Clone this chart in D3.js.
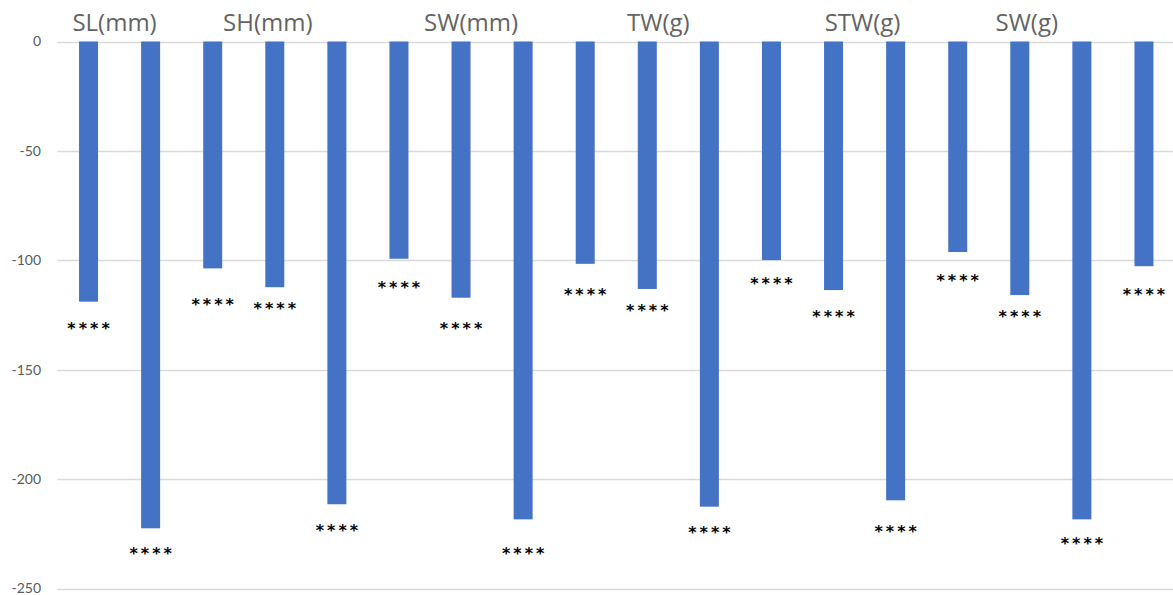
<!DOCTYPE html>
<html>
<head>
<meta charset="utf-8">
<script src="https://cdn.jsdelivr.net/npm/d3@7"></script>
<style>
  html, body { margin: 0; padding: 0; background: #fff; }
  svg { display: block; }
</style>
</head>
<body>
<svg id="chart" width="1173" height="595"></svg>
<script>
// ---- data ----
const groups = ["SL(mm)", "SH(mm)", "SW(mm)", "TW(g)", "STW(g)", "SW(g)"];
const categories = [
  "SL(mm) 1", "SL(mm) 2", "SL(mm) 3",
  "SH(mm) 1", "SH(mm) 2", "SH(mm) 3",
  "SW(mm) 1", "SW(mm) 2", "SW(mm) 3",
  "TW(g) 1", "TW(g) 2", "TW(g) 3",
  "STW(g) 1", "STW(g) 2", "STW(g) 3",
  "SW(g) 1", "SW(g) 2", "SW(g) 3"
];
const values = [
  -118.9, -222.5, -103.7,
  -112.3, -211.5, -99.3,
  -117.1, -218.4, -101.6,
  -113.1, -212.6, -99.9,
  -113.6, -209.7, -96.2,
  -115.9, -218.4, -102.7
];
const sigLabels = [
  "****", "****", "****", "****", "****", "****",
  "****", "****", "****", "****", "****", "****",
  "****", "****", "****", "****", "****", "****"
];
const yTicks = [0, -50, -100, -150, -200, -250];

// ---- layout (not data) ----
const W = 1173, H = 595;
const plotLeft = 57.5, plotRight = 1175, plotTop = 41.5, plotBottom = 588.5;
const barFrac = 0.306;
const starOffsets = [23, 22, 33, 18, 23, 25, 27, 31, 27, 18, 22, 20, 23, 28, 25, 18, 21, 25];
const groupLabelOffsets = [26, -7, 10, 11, 29, 7];

const svg = d3.select("#chart");

const x = d3.scaleBand().domain(categories).range([plotLeft, plotRight]).padding(0);
const y = d3.scaleLinear().domain([-250, 0]).range([plotBottom, plotTop]);

// gridlines
svg.append("g")
  .selectAll("line")
  .data(yTicks)
  .join("line")
  .attr("x1", plotLeft)
  .attr("x2", W)
  .attr("y1", d => Math.round(y(d)) + 0.5)
  .attr("y2", d => Math.round(y(d)) + 0.5)
  .attr("stroke", "#d9d9d9")
  .attr("stroke-width", 1.3);

// y axis labels
const yAxis = d3.axisLeft(y).tickValues(yTicks).tickSize(0).tickPadding(0).tickFormat(d => String(d));
const yg = svg.append("g").attr("transform", `translate(${41},0)`).call(yAxis);
yg.select(".domain").remove();
yg.selectAll("text")
  .attr("fill", "#595959")
  .style("font-family", "Lato, 'Open Sans', sans-serif")
  .style("font-size", "14px");

// bars
const bw = x.bandwidth() * barFrac;
svg.append("g")
  .selectAll("rect")
  .data(values)
  .join("rect")
  .attr("x", (d, i) => x(categories[i]) + x.bandwidth() / 2 - bw / 2)
  .attr("y", d => y(0))
  .attr("width", bw)
  .attr("height", d => y(d) - y(0))
  .attr("fill", "#4472c4");

// significance stars
svg.append("g")
  .selectAll("text")
  .data(values)
  .join("text")
  .attr("x", (d, i) => x(categories[i]) + x.bandwidth() / 2 + 1.5)
  .attr("y", (d, i) => y(d) + starOffsets[i] + 9)
  .attr("text-anchor", "middle")
  .attr("fill", "#000")
  .style("font-family", "'DejaVu Sans', sans-serif")
  .style("font-weight", "bold")
  .style("font-size", "16px")
  .style("letter-spacing", "3px")
  .text((d, i) => sigLabels[i]);

// group labels
svg.append("g")
  .selectAll("text")
  .data(groups)
  .join("text")
  .attr("x", (g, gi) => x(categories[gi * 3]) + x.bandwidth() / 2 + groupLabelOffsets[gi])
  .attr("y", 31)
  .attr("text-anchor", "middle")
  .attr("fill", "#636363")
  .style("font-family", "'Open Sans', sans-serif")
  .style("font-size", "24px")
  .text(g => g);
</script>
</body>
</html>
